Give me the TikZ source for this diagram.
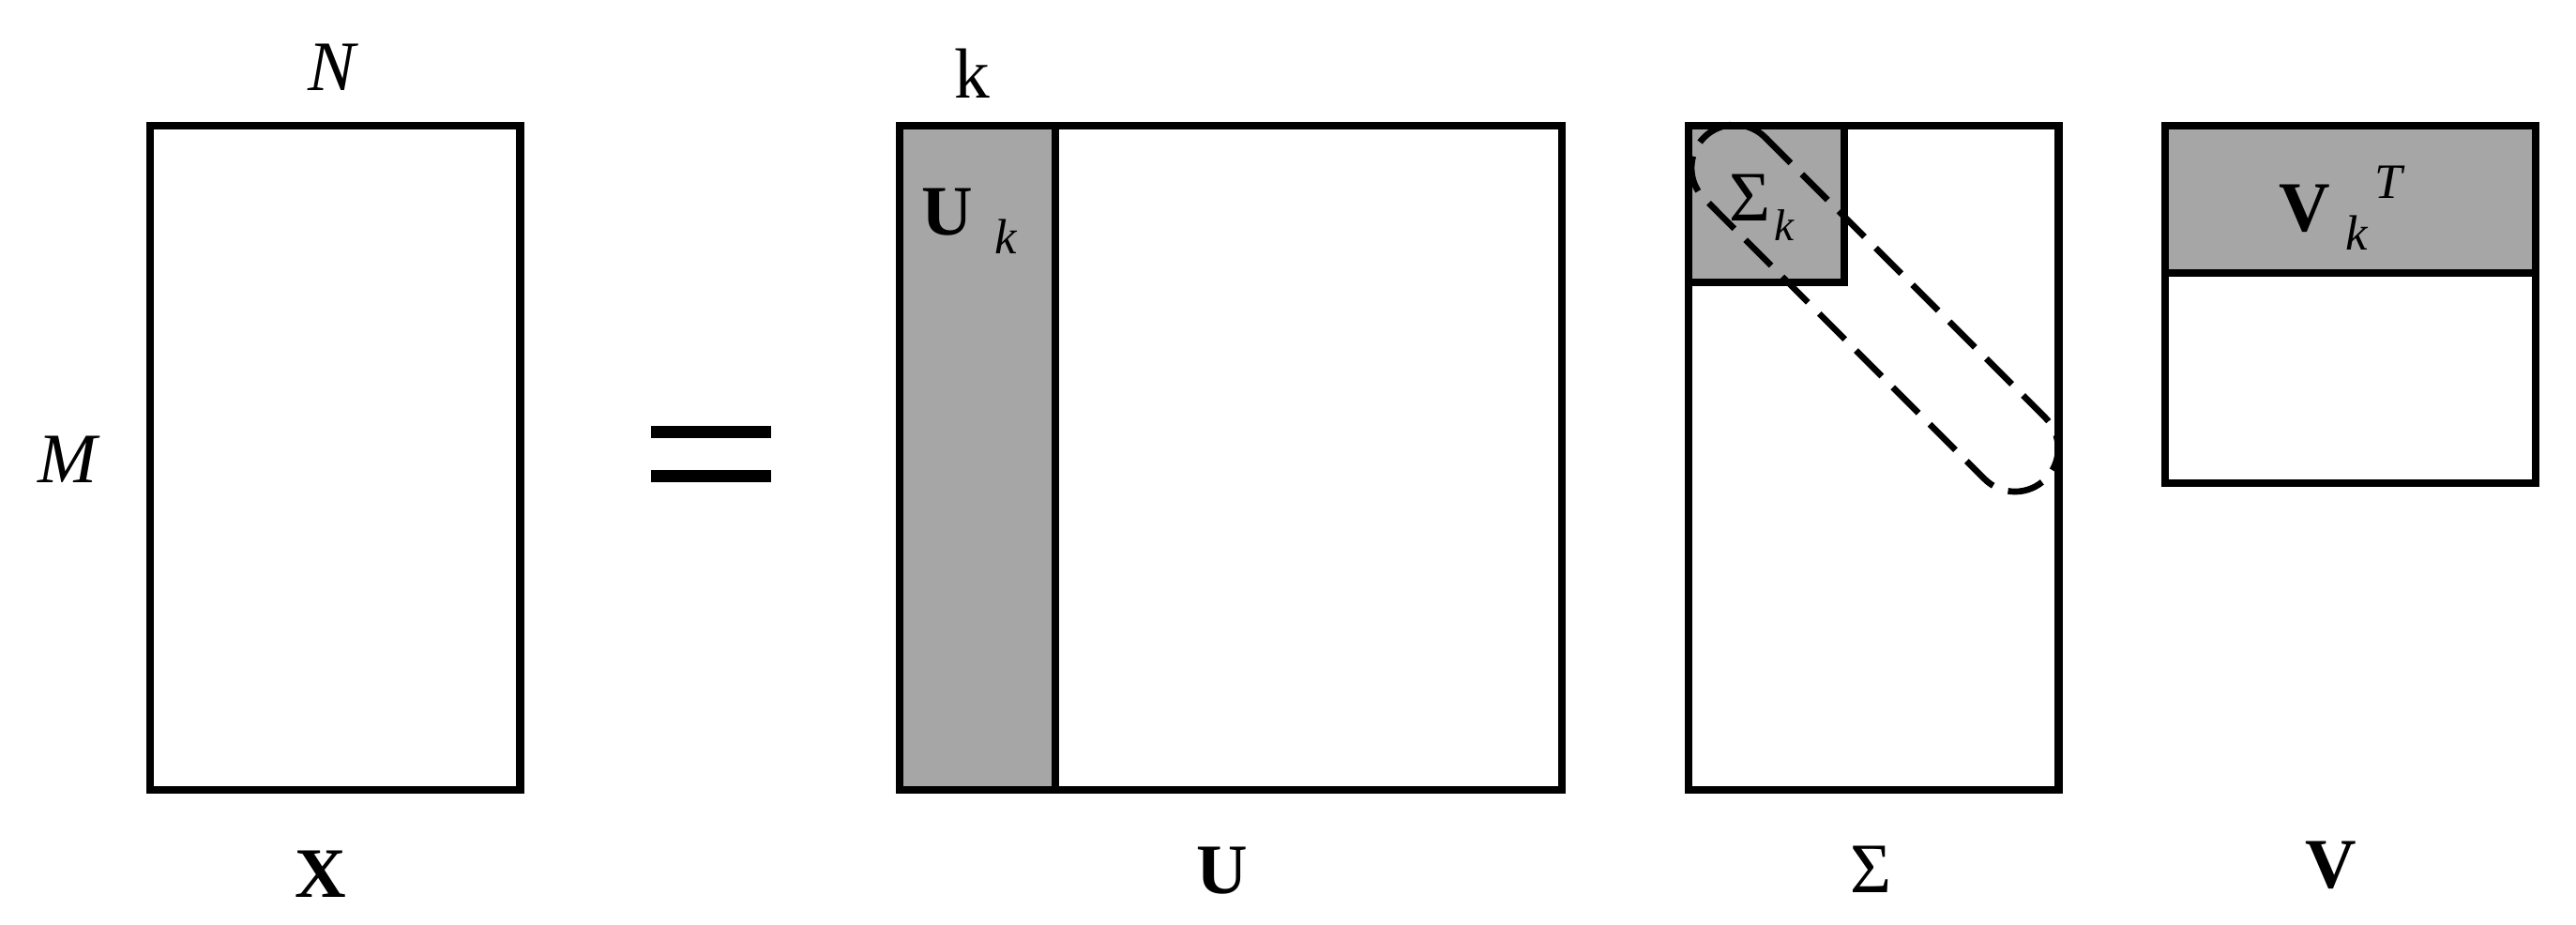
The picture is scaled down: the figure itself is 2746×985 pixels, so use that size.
\documentclass[tikz,border=0pt]{standalone}
\usepackage{fontspec}
\setmainfont{Liberation Serif}
\definecolor{shadegray}{RGB}{166,166,166}
\begin{document}
\begin{tikzpicture}[x=0.01cm,y=-0.01cm,
  mat/.style={line width=2.3pt},
  shadebox/.style={fill=shadegray},
  lbl/.style={inner sep=0pt, font=\fontsize{21.5}{26}\selectfont},
  sublbl/.style={inner sep=0pt, font=\fontsize{15}{18}\selectfont\itshape},
  band/.style={line width=1.9pt, dash pattern=on 11pt off 4.8pt},
  eqbar/.style={fill=black}]
\useasboundingbox (0,0) rectangle (2746,985);
% X matrix
\draw[mat] (160,134) rectangle (554.5,842);
\node[lbl] (N) at (355,71.5) {\textit{N}};
\node[lbl] (M) at (74,490) {\textit{M}};
\node[lbl] (Xl) at (342,932) {\textbf{X}};
% equals sign
\fill[eqbar] (694,454) rectangle (822,466.7);
\fill[eqbar] (694,501) rectangle (822,513.7);
% U matrix
\fill[shadebox] (959,134) rectangle (1125,842);
\draw[mat] (959,134) rectangle (1665,842);
\draw[mat] (1125,134) -- (1125,842);
\node[lbl] (kU) at (1036,78) {k};
\node[lbl] (Uk) at (1010,226) {\textbf{U}};
\node[sublbl] (Ukk) at (1072,252) {k};
\node[lbl] (Ul) at (1303,928) {\textbf{U}};
% Sigma matrix
\fill[shadebox] (1800,134) rectangle (1966,300.7);
\draw[mat] (1800,134) rectangle (2194.5,842);
\draw[mat] (1800,300.7) -- (1966,300.7) -- (1966,134);
\node[lbl] (Sk) at (1865,211) {Σ};
\node[inner sep=0pt, font=\fontsize{13.5}{16}\selectfont\itshape] (Skk) at (1902,240) {k};
\node[lbl] (Sl) at (1994,927) {Σ};
% dashed band along the diagonal
\draw[band] (1881.5,146.5) -- (2180.5,445.5)
  arc[start angle=-45, end angle=135, radius=46]
  -- (1816.5,211.5)
  arc[start angle=135, end angle=315, radius=46] -- cycle;
% V matrix
\fill[shadebox] (2308,134) rectangle (2703,291);
\draw[mat] (2308,134) rectangle (2703,515);
\draw[mat] (2308,291) -- (2703,291);
\node[lbl] (Vk) at (2457,222) {\textbf{V}};
\node[sublbl] (Vkk) at (2512,248) {k};
\node[sublbl] (VkT) at (2546,194) {T};
\node[lbl] (Vl) at (2485,922) {\textbf{V}};
\end{tikzpicture}
\end{document}
